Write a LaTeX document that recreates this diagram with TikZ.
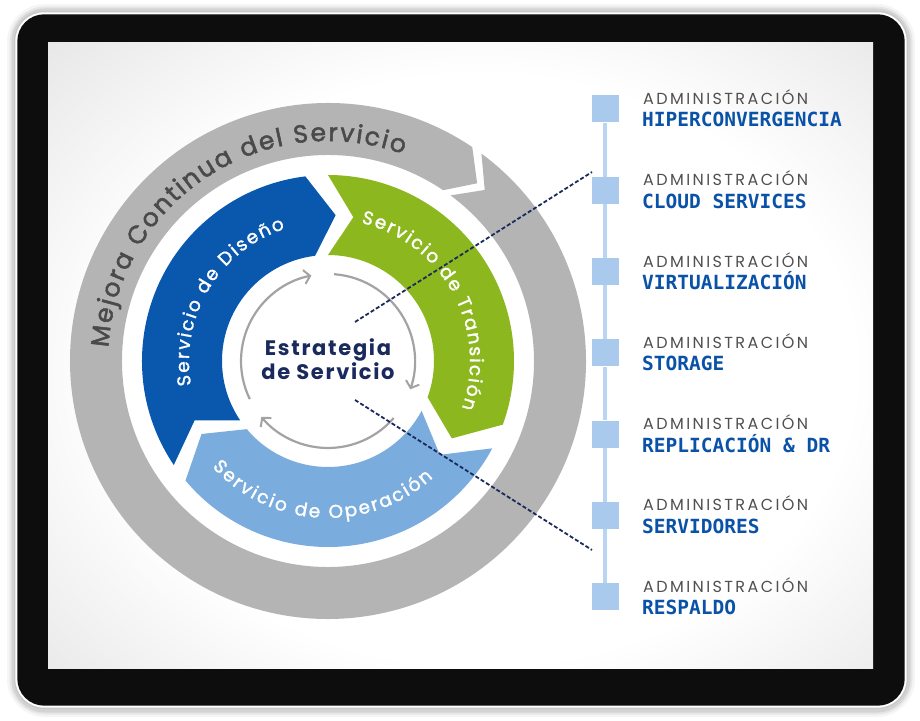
\documentclass[tikz,border=0pt]{standalone}
\usepackage{fontspec}
\setmainfont{Poppins}
\newfontfamily\ringfont[FakeBold=2]{Poppins}
\newfontfamily\ringfontw[FakeBold=1.5]{Poppins}
\newfontfamily\stratfont[LetterSpace=8]{Poppins}
\newfontfamily\admfont[LetterSpace=15]{Poppins}
\newfontfamily\itemfont{DejaVu Sans Mono}
\usetikzlibrary{decorations.text,arrows.meta}

\definecolor{ringgray}{HTML}{B4B4B4}
\definecolor{dblue}{HTML}{0A58AE}
\definecolor{lgreen}{HTML}{8CB71F}
\definecolor{lblue}{HTML}{7AADDE}
\definecolor{navy}{HTML}{1B2A5C}
\definecolor{txtgray}{HTML}{4A4A4A}
\definecolor{admgray}{HTML}{505050}
\definecolor{sqblue}{HTML}{A9CAEC}
\definecolor{lineblue}{HTML}{B9D5F1}
\definecolor{itemblue}{HTML}{0A52A8}
\definecolor{arrgray}{HTML}{A3A3A3}

\pgfdeclareradialshading{screenshade}{\pgfpoint{0bp}{0bp}}{color(0bp)=(white); color(18bp)=(white); color(38bp)=(black!17); color(60bp)=(black!42)}

\newcommand\chevband[7]{% color, Ri, Ro, tail corner ang, notch ang, head corner ang, tip ang
  \fill[#1] (#4:#3) arc[start angle=#4, end angle=#6, radius=#3] -- (#7:{(#2+#3)/2}) -- (#6:#2)
    arc[start angle=#6, end angle=#4, radius=#2] -- (#5:{(#2+#3)/2}) -- cycle;}

\tikzset{
  innerarrow/.style={draw=arrgray, line width=2.2pt, -{Straight Barb[length=6pt, width=14pt, line width=2pt]}},
  dashline/.style={draw=navy, line width=1.8pt, dash pattern=on 4pt off 2.2pt},
  sqbox/.style={fill=sqblue, minimum size=27pt, inner sep=0pt},
  admtext/.style={font=\admfont\fontsize{16}{16}\selectfont, text=admgray, inner sep=0pt},
  itemtext/.style={font=\itemfont\bfseries\fontsize{19.5}{19.5}\selectfont, text=itemblue, inner sep=0pt},
  vline/.style={draw=lineblue, line width=4pt}
}

\begin{document}
\begin{tikzpicture}[x=1pt,y=1pt]
\useasboundingbox (0,0) rectangle (920,720);
\fill[white] (0,0) rectangle (920,720);
% shadow of tablet
\foreach \w/\o in {16/0.04, 11/0.06, 7/0.08}
  \draw[black, opacity=\o, line width=\w pt, rounded corners=30] (15,11) rectangle (907,708);
% tablet frame
\fill[black!22, rounded corners=30] (14,11) rectangle (908,709);
\fill[white, rounded corners=29] (15.3,12.3) rectangle (906.7,707.7);
\fill[black!95, rounded corners=27] (17.3,14.3) rectangle (904.7,705.7);
% screen
\begin{scope}
  \clip (48,52) rectangle (873,677);
  \shade[shading=screenshade] (-40,-60) rectangle (1000,760);
\end{scope}

% circular diagram
\begin{scope}[shift={(328,359)}]
  % outer gray ring arrow
  \chevband{ringgray}{206}{258}{53.5}{47.5}{-304}{-310}
  % colored arrows
  \chevband{dblue}{106}{186}{214}{204}{97}{87}
  \chevband{lgreen}{106}{186}{90}{80}{-20}{-32}
  \chevband{lblue}{106}{186}{-28}{-40}{-140}{-150}
  % ring texts
  \path[decorate, decoration={text along path, text={|\ringfont\fontsize{25}{25}\selectfont\color{txtgray}|Mejora Continua del Servicio}, text align={fit to path}}]
    (176.5:220) arc[start angle=176.5, end angle=70, radius=220];
  \path[decorate, decoration={text along path, text={|\ringfontw\fontsize{18.5}{18.5}\selectfont\color{white}|Servicio de Diseño}, text align={fit to path}}]
    (190:139) arc[start angle=190, end angle=108, radius=139];
  \path[decorate, decoration={text along path, text={|\ringfontw\fontsize{18.5}{18.5}\selectfont\color{white}|Servicio de Transición}, text align={fit to path}}]
    (76.5:142) arc[start angle=76.5, end angle=-19.5, radius=142];
  \path[decorate, decoration={text along path, text={|\ringfontw\fontsize{18.5}{18.5}\selectfont\color{white}|Servicio de Operación}, text align={fit to path}}]
    (222.5:157) arc[start angle=222.5, end angle=312, radius=157];
  % inner cycle arrows
  \draw[innerarrow] (206:87) arc[start angle=206, end angle=101, radius=87];
  \draw[innerarrow] (86:87) arc[start angle=86, end angle=-19, radius=87];
  \draw[innerarrow] (-41:87) arc[start angle=-41, end angle=-140, radius=87];
\end{scope}

% center text
\node[font=\stratfont\bfseries\fontsize{21}{20.5}\selectfont, text=navy, align=center, inner sep=0pt] (strat) at (328,361) {Estrategia\\de Servicio};

% dashed connectors
\coordinate (d1s) at (355,398);
\coordinate (d1e) at (592,548);
\coordinate (d2s) at (355,320);
\coordinate (d2e) at (592,170);
\draw[dashline] (d1s) -- (d1e);
\draw[dashline] (d2s) -- (d2e);

% right list
\foreach \i/\name in {1/HIPERCONVERGENCIA, 2/CLOUD SERVICES, 3/VIRTUALIZACIÓN, 4/STORAGE, 5/REPLICACIÓN \& DR, 6/SERVIDORES, 7/RESPALDO} {
  \pgfmathsetmacro\yy{720-(109+81.3*(\i-1))}
  \node[sqbox] (sq\i) at (605,\yy) {};
  \node[admtext, anchor=base west] (adm\i) at (643,\yy+4.5) {ADMINISTRACIÓN};
  \node[itemtext, anchor=base west] (it\i) at (642,\yy-18) {\name};
}
\foreach \i [evaluate=\i as \j using int(\i+1)] in {1,...,6}
  \draw[vline] (sq\i.south) -- (sq\j.north);
\end{tikzpicture}
\end{document}
